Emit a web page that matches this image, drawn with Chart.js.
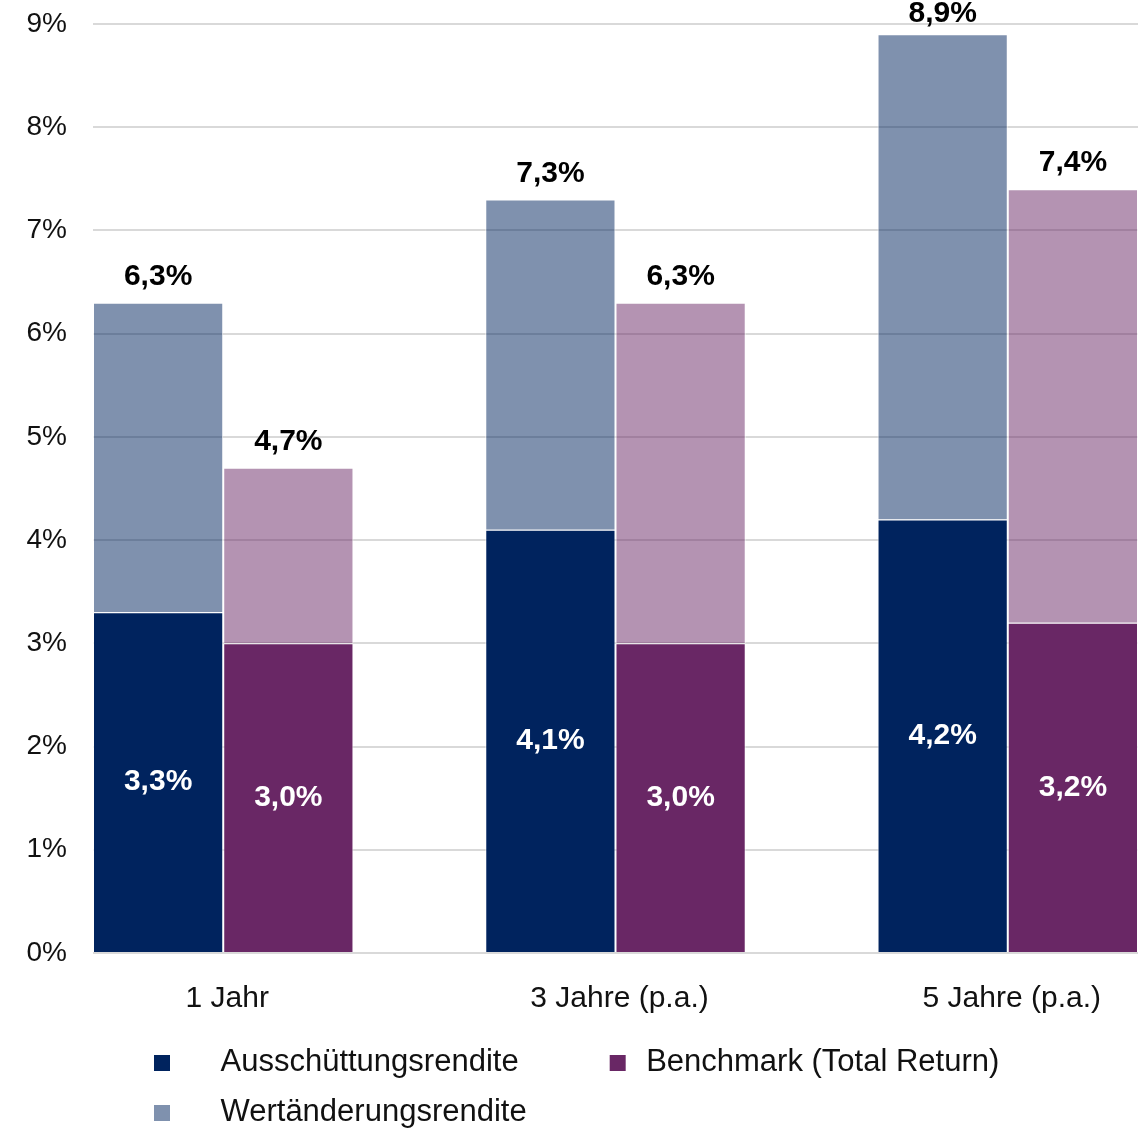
<!DOCTYPE html>
<html lang="de">
<head>
<meta charset="utf-8">
<title>Rendite im Vergleich</title>
<script src="https://cdn.jsdelivr.net/npm/chart.js@4.4.1/dist/chart.umd.min.js"></script>
<style>
  html, body { margin: 0; padding: 0; background: #fff; }
</style>
</head>
<body>
<canvas id="chart" width="1143" height="1129"></canvas>
<script>
// periods shown on the x axis
const categories = ["1 Jahr", "3 Jahre (p.a.)", "5 Jahre (p.a.)"];

// fund: distribution yield and total return, in percent
const fundBase = [3.3, 4.1, 4.2];
const fundTotal = [6.3, 7.3, 8.9];

// benchmark: lower segment and total return, in percent
const benchBase = [3.0, 3.0, 3.2];
const benchTotal = [4.7, 6.3, 7.4];

// y axis ticks, percent
const yTicks = [0, 1, 2, 3, 4, 5, 6, 7, 8, 9];

const FONT = "'Liberation Sans', Arial, Helvetica, sans-serif";
const NAVY = "#00235e";
const NAVY_LIGHT = "rgba(0, 35, 94, 0.5)";
const PURPLE = "#692765";
const PURPLE_LIGHT = "rgba(105, 39, 101, 0.5)";

// share of one period step that the two bars of a period fill
const groupShare = 0.664;

const pct = v => v.toFixed(1).replace(".", ",") + "%";
const upper = (total, base) => total.map((t, i) => Math.round((t - base[i]) * 10) / 10);
const points = values => values.map((v, i) => ({x: i, y: v}));

// legend marker: a 16px square placed inside the legend box slot
const markerBox = 93;
function legendMarker(color, offset) {
	const half = Math.max(markerBox / 2, offset + 16 - markerBox / 2, markerBox / 2 - offset);
	const c = document.createElement("canvas");
	c.width = Math.ceil(half * 2);
	c.height = 16;
	const g = c.getContext("2d");
	g.fillStyle = color;
	g.fillRect(c.width / 2 - markerBox / 2 + offset, 0, 16, 16);
	return c;
}
const markerOffsets = [42, 72, 42];

// values inside the lower segments and totals above the bars
const valueLabels = {
	id: "valueLabels",
	afterDatasetsDraw(chart) {
		const ctx = chart.ctx;
		ctx.save();
		ctx.textAlign = "center";
		ctx.textBaseline = "middle";
		ctx.font = "bold 30px " + FONT;
		const stacks = [[0, 2, fundBase, fundTotal], [1, 3, benchBase, benchTotal]];
		for (const [lo, hi, base, total] of stacks) {
			const loMeta = chart.getDatasetMeta(lo);
			const hiMeta = chart.getDatasetMeta(hi);
			base.forEach((v, i) => {
				const bar = loMeta.data[i];
				ctx.fillStyle = "#ffffff";
				ctx.fillText(pct(v), bar.x, (bar.y + bar.base) / 2);
				const top = hiMeta.data[i];
				ctx.fillStyle = "#000000";
				// keep the highest total inside the canvas
				ctx.fillText(pct(total[i]), top.x, Math.max(top.y - 26, 14));
			});
		}
		ctx.restore();
	}
};

const barStyle = {
	borderColor: "rgba(255, 255, 255, 0.75)",
	borderWidth: 1,
	categoryPercentage: groupShare,
	barPercentage: 1
};

new Chart(document.getElementById("chart"), {
	type: "bar",
	data: {
		datasets: [
			Object.assign({label: "Ausschüttungsrendite", stack: "fund", data: points(fundBase), backgroundColor: NAVY}, barStyle),
			Object.assign({label: "Benchmark (Total Return)", stack: "bench", data: points(benchBase), backgroundColor: PURPLE}, barStyle),
			Object.assign({label: "Wertänderungsrendite", stack: "fund", data: points(upper(fundTotal, fundBase)), backgroundColor: NAVY_LIGHT}, barStyle),
			Object.assign({label: "Benchmark Wertänderung", stack: "bench", data: points(upper(benchTotal, benchBase)), backgroundColor: PURPLE_LIGHT}, barStyle)
		]
	},
	options: {
		responsive: false,
		animation: false,
		layout: {padding: {top: 24, right: 5, bottom: 1, left: 0}},
		scales: {
			x: {
				type: "linear",
				bounds: "data",
				offset: false,
				grid: {display: false},
				border: {display: false},
				afterBuildTicks: scale => {
					// bar pairs sit flush with both ends of the plot
					scale.ticks = categories.map((_, i) => ({value: i}));
					scale.min = -groupShare / 2;
					scale.max = categories.length - 1 + groupShare / 2;
				},
				afterFit: scale => {
					scale.height = 75;
				},
				ticks: {
					autoSkip: false,
					maxRotation: 0,
					padding: 20,
					labelOffset: 4,
					color: "#111111",
					font: {family: FONT, size: 30},
					callback: v => categories[v]
				}
			},
			y: {
				stacked: true,
				min: yTicks[0],
				max: yTicks[yTicks.length - 1],
				border: {display: false},
				grid: {color: "#d9d9d9", lineWidth: 2, drawTicks: false},
				afterBuildTicks: scale => {
					scale.ticks = yTicks.map(v => ({value: v}));
				},
				afterFit: scale => {
					scale.width = 93;
					scale.paddingTop = 0;
					scale.paddingBottom = 0;
				},
				ticks: {
					padding: 26,
					color: "#111111",
					font: {family: FONT, size: 28},
					callback: v => v + "%"
				}
			}
		},
		plugins: {
			tooltip: {enabled: false},
			legend: {
				position: "bottom",
				align: "start",
				fullSize: false,
				maxHeight: 100,
				labels: {
					usePointStyle: true,
					pointStyleWidth: markerBox,
					padding: 19,
					color: "#111111",
					font: {family: FONT, size: 31},
					filter: item => item.datasetIndex < 3,
					generateLabels: chart => {
						const items = Chart.defaults.plugins.legend.labels.generateLabels(chart);
						items.forEach(item => {
							item.pointStyle = legendMarker(item.fillStyle, markerOffsets[item.datasetIndex] || 42);
							item.lineWidth = 0;
						});
						return items;
					}
				}
			}
		}
	},
	plugins: [valueLabels]
});
</script>
</body>
</html>
